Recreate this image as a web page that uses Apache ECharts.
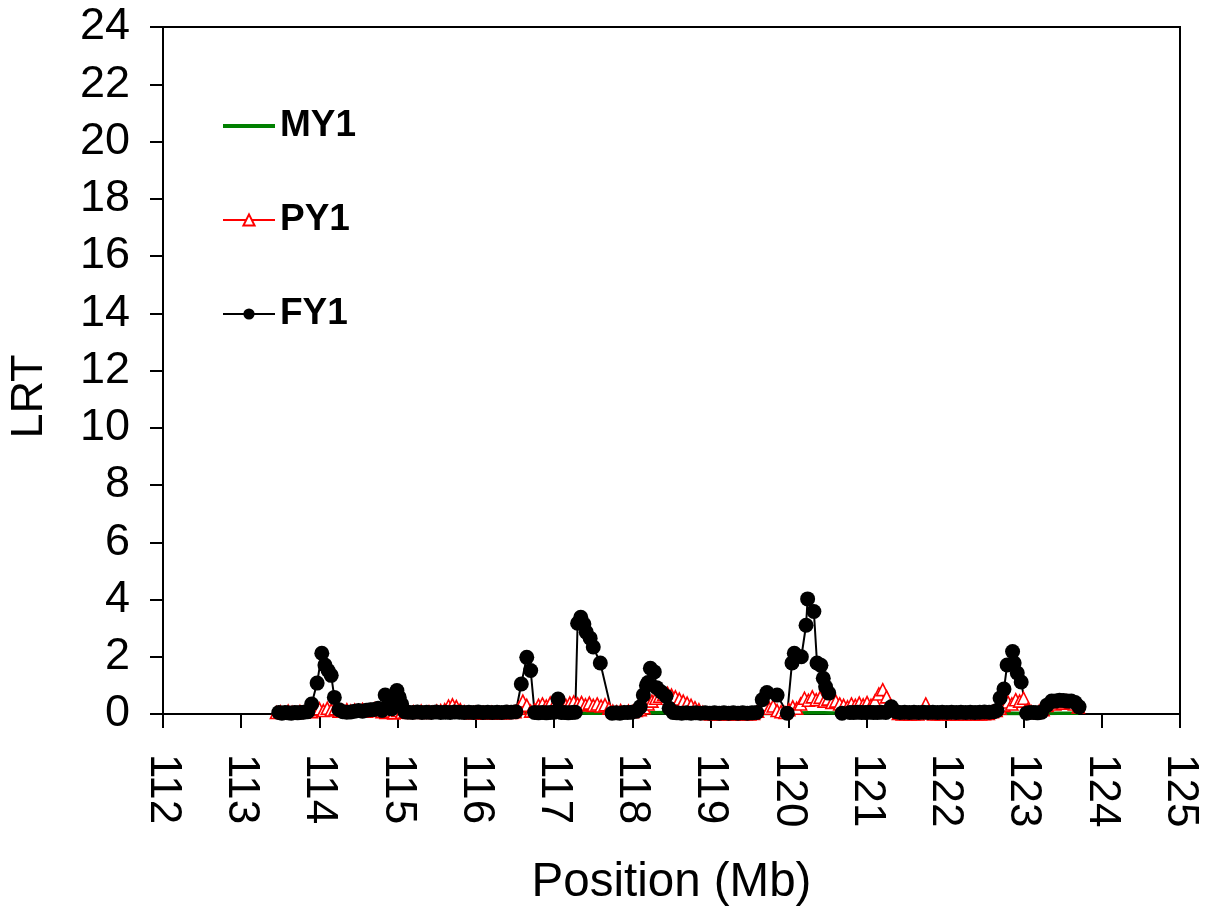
<!DOCTYPE html>
<html>
<head>
<meta charset="utf-8">
<script src="https://cdn.jsdelivr.net/npm/echarts@6/dist/echarts.min.js"></script>
<style>html,body{margin:0;padding:0;background:#fff;}#chart{width:1209px;height:909px;}</style>
</head>
<body>
<div id="chart"></div>
<script>
// x tick labels (Mb) and y tick labels (LRT)
const xTicks = [112,113,114,115,116,117,118,119,120,121,122,123,124,125];
const yTicks = [0,2,4,6,8,10,12,14,16,18,20,22,24];
const seriesNames = ['MY1','PY1','FY1'];

// MY1: [position Mb, LRT]
const my1 = [
[113.45,0.02],[113.65,0.02],[113.85,0.03],[114.05,0.02],[114.25,0.02],[114.45,0.03],[114.65,0.02],[114.85,0.02],
[115.05,0.02],[115.25,0.02],[115.45,0.02],[115.65,0.03],[115.85,0.02],[116.05,0.02],[116.25,0.02],[116.45,0.02],
[116.65,0.04],[116.85,0.03],[117.05,0.03],[117.25,0.04],[117.45,0.03],[117.65,0.03],[117.85,0.02],[118.05,0.02],
[118.25,0.04],[118.45,0.05],[118.65,0.04],[118.85,0.02],[119.05,0.01],[119.25,0.01],[119.45,0.01],[119.65,0.02],
[119.85,0.02],[120.05,0.03],[120.25,0.04],[120.45,0.04],[120.65,0.03],[120.85,0.03],[121.05,0.03],[121.25,0.03],
[121.45,0.01],[121.65,0.01],[121.85,0.01],[122.05,0.01],[122.25,0.01],[122.45,0.01],[122.65,0.02],[122.85,0.03],
[123.05,0.02],[123.25,0.02],[123.45,0.03],[123.70,0.03]
];

// PY1: [position Mb, LRT]
const py1 = [
[113.45,0.05],[113.50,0.08],[113.55,0.04],[113.60,0.10],[113.65,0.06],[113.70,0.05],[113.75,0.09],[113.80,0.06],[113.85,0.10],[113.90,0.08],
[113.95,0.15],[114.00,0.18],[114.05,0.12],[114.10,0.20],[114.15,0.14],[114.20,0.18],[114.25,0.10],[114.30,0.12],[114.35,0.15],[114.40,0.10],
[114.45,0.14],[114.50,0.12],[114.55,0.16],[114.60,0.10],[114.65,0.14],[114.70,0.18],[114.75,0.12],[114.80,0.08],[114.85,0.05],[114.90,0.10],
[114.95,0.04],[115.00,0.12],[115.05,0.06],[115.10,0.08],[115.15,0.05],[115.20,0.08],[115.25,0.06],[115.30,0.10],[115.35,0.05],[115.40,0.08],
[115.45,0.06],[115.50,0.10],[115.55,0.12],[115.60,0.15],[115.65,0.28],[115.70,0.32],[115.75,0.26],[115.80,0.15],[115.85,0.08],[115.90,0.05],
[115.95,0.04],[116.00,0.06],[116.05,0.03],[116.10,0.05],[116.15,0.04],[116.20,0.06],[116.25,0.03],[116.30,0.05],[116.35,0.04],[116.40,0.06],
[116.45,0.05],[116.50,0.08],[116.55,0.20],[116.60,0.45],[116.65,0.30],[116.70,0.10],[116.75,0.15],[116.80,0.30],[116.85,0.35],[116.90,0.28],
[116.95,0.38],[117.00,0.32],[117.05,0.40],[117.10,0.35],[117.15,0.30],[117.20,0.38],[117.25,0.42],[117.30,0.35],[117.35,0.40],[117.40,0.32],
[117.45,0.38],[117.50,0.30],[117.55,0.35],[117.60,0.28],[117.65,0.32],[117.70,0.20],[117.75,0.10],[117.80,0.08],[117.85,0.12],[117.90,0.06],
[117.95,0.10],[118.00,0.08],[118.05,0.12],[118.10,0.15],[118.15,0.22],[118.20,0.35],[118.25,0.45],[118.30,0.55],[118.35,0.62],[118.40,0.68],
[118.45,0.72],[118.50,0.66],[118.55,0.60],[118.60,0.52],[118.65,0.45],[118.70,0.38],[118.75,0.30],[118.80,0.22],[118.85,0.15],[118.90,0.06],
[118.95,0.02],[119.00,0.00],[119.05,0.01],[119.10,0.00],[119.15,0.01],[119.20,0.00],[119.25,0.01],[119.30,0.00],[119.35,0.01],[119.40,0.00],
[119.45,0.01],[119.50,0.00],[119.55,0.02],[119.60,0.10],[119.65,0.25],[119.70,0.32],[119.75,0.20],[119.80,0.28],[119.85,0.12],[119.90,0.08],
[119.95,0.05],[120.00,0.15],[120.05,0.25],[120.10,0.20],[120.15,0.35],[120.20,0.55],[120.25,0.48],[120.30,0.60],[120.35,0.50],[120.40,0.58],
[120.45,0.45],[120.50,0.52],[120.55,0.40],[120.60,0.45],[120.65,0.35],[120.70,0.30],[120.75,0.25],[120.80,0.35],[120.85,0.30],[120.90,0.38],
[120.95,0.32],[121.00,0.40],[121.05,0.30],[121.10,0.45],[121.15,0.70],[121.20,0.85],[121.25,0.60],[121.30,0.30],[121.35,0.12],[121.40,0.02],
[121.45,0.00],[121.50,0.01],[121.55,0.00],[121.60,0.01],[121.65,0.00],[121.70,0.05],[121.75,0.35],[121.80,0.05],[121.85,0.00],[121.90,0.01],
[121.95,0.00],[122.00,0.01],[122.05,0.00],[122.10,0.01],[122.15,0.00],[122.20,0.01],[122.25,0.00],[122.30,0.01],[122.35,0.00],[122.40,0.01],
[122.45,0.00],[122.50,0.01],[122.55,0.02],[122.60,0.08],[122.65,0.12],[122.70,0.20],[122.75,0.30],[122.80,0.42],[122.85,0.35],[122.90,0.50],
[122.95,0.45],[123.00,0.55],[123.05,0.15],[123.10,0.08],[123.15,0.05],[123.20,0.10],[123.25,0.15],[123.30,0.30],[123.35,0.40],[123.40,0.35],
[123.45,0.42],[123.50,0.38],[123.55,0.45],[123.60,0.40],[123.65,0.35],[123.70,0.25]
];

// FY1: [position Mb, LRT]
const fy1 = [
[113.48,0.05],[113.52,0.03],[113.56,0.05],[113.60,0.04],[113.64,0.03],[113.68,0.05],[113.72,0.04],[113.76,0.05],[113.80,0.06],[113.85,0.08],
[113.90,0.35],[113.97,1.08],[114.03,2.12],[114.07,1.71],[114.11,1.52],[114.15,1.35],[114.19,0.58],[114.25,0.15],[114.30,0.08],[114.35,0.06],
[114.40,0.07],[114.45,0.10],[114.50,0.12],[114.55,0.10],[114.60,0.13],[114.65,0.15],[114.70,0.16],[114.75,0.20],[114.80,0.12],[114.84,0.66],
[114.88,0.30],[114.92,0.18],[114.95,0.42],[114.99,0.82],[115.02,0.58],[115.05,0.35],[115.09,0.08],[115.13,0.06],[115.19,0.05],[115.25,0.07],
[115.31,0.05],[115.37,0.06],[115.43,0.05],[115.49,0.07],[115.55,0.05],[115.61,0.06],[115.67,0.05],[115.73,0.07],[115.79,0.06],[115.85,0.05],
[115.91,0.06],[115.97,0.05],[116.03,0.07],[116.09,0.05],[116.15,0.06],[116.21,0.05],[116.27,0.06],[116.33,0.05],[116.39,0.07],[116.45,0.06],
[116.51,0.08],[116.58,1.05],[116.65,1.98],[116.70,1.52],[116.75,0.05],[116.80,0.04],[116.85,0.05],[116.90,0.04],[116.95,0.05],[117.00,0.06],
[117.05,0.52],[117.09,0.05],[117.13,0.05],[117.18,0.04],[117.23,0.05],[117.27,0.06],[117.30,3.17],[117.34,3.38],[117.38,3.14],[117.41,2.86],
[117.46,2.65],[117.50,2.34],[117.59,1.78],[117.74,0.03],[117.79,0.04],[117.84,0.03],[117.89,0.05],[117.94,0.05],[117.99,0.06],[118.05,0.10],
[118.10,0.25],[118.14,0.66],[118.18,1.00],[118.20,1.10],[118.23,1.60],[118.28,1.47],[118.31,0.92],[118.37,0.77],[118.43,0.62],[118.47,0.20],
[118.52,0.05],[118.57,0.04],[118.63,0.03],[118.69,0.04],[118.75,0.03],[118.81,0.04],[118.87,0.03],[118.93,0.04],[118.99,0.03],[119.05,0.04],
[119.11,0.03],[119.17,0.04],[119.23,0.03],[119.29,0.04],[119.35,0.03],[119.41,0.04],[119.47,0.03],[119.53,0.04],[119.59,0.05],[119.66,0.50],
[119.72,0.75],[119.85,0.66],[119.98,0.03],[120.04,1.78],[120.07,2.12],[120.16,2.00],[120.22,3.10],[120.24,4.02],[120.32,3.58],[120.36,1.78],
[120.41,1.70],[120.44,1.25],[120.47,0.95],[120.51,0.73],[120.68,0.03],[120.78,0.05],[120.83,0.05],[120.88,0.06],[120.93,0.05],[120.98,0.05],
[121.03,0.06],[121.08,0.05],[121.13,0.05],[121.18,0.06],[121.24,0.05],[121.31,0.25],[121.37,0.08],[121.42,0.05],[121.48,0.06],[121.54,0.05],
[121.60,0.06],[121.66,0.05],[121.72,0.06],[121.78,0.05],[121.84,0.06],[121.90,0.05],[121.96,0.06],[122.02,0.05],[122.08,0.06],[122.14,0.05],
[122.20,0.06],[122.26,0.05],[122.32,0.06],[122.38,0.05],[122.44,0.06],[122.50,0.07],[122.56,0.06],[122.62,0.08],[122.66,0.12],[122.70,0.56],
[122.75,0.87],[122.79,1.71],[122.86,2.18],[122.88,1.78],[122.92,1.43],[122.97,1.12],[123.04,0.03],[123.08,0.05],[123.13,0.05],[123.18,0.04],
[123.23,0.06],[123.30,0.31],[123.36,0.45],[123.41,0.45],[123.46,0.48],[123.51,0.47],[123.56,0.45],[123.61,0.45],[123.66,0.40],[123.71,0.25]
];

const FONT = '"Liberation Sans", Arial, sans-serif';
const chart = echarts.init(document.getElementById('chart'), null, {renderer: 'canvas'});
chart.setOption({
  animation: false,
  backgroundColor: '#fff',
  grid: {left: 163, right: 29, top: 27, bottom: 195, show: true, borderColor: '#000', borderWidth: 2,
    backgroundColor: 'transparent', containLabel: false, outerBoundsMode: 'none'},
  legend: {
    orient: 'vertical', left: 221, top: 106, padding: 0, itemGap: 54, itemWidth: 52, itemHeight: 14,
    selectedMode: false,
    data: [
      {name: seriesNames[0], itemStyle: {opacity: 0}, lineStyle: {width: 4, color: '#008000'}},
      {name: seriesNames[1], lineStyle: {width: 2, color: '#ff0000'}},
      {name: seriesNames[2], lineStyle: {width: 2, color: '#000'}}
    ],
    textStyle: {fontFamily: FONT, fontSize: 37, fontWeight: 'bold', color: '#000', lineHeight: 40}
  },
  xAxis: {
    type: 'value', min: xTicks[0], max: xTicks[xTicks.length - 1], interval: 1,
    name: 'Position (Mb)', nameLocation: 'middle', nameGap: 145,
    nameTextStyle: {fontFamily: FONT, fontSize: 47.5, color: '#000'},
    axisLine: {onZero: false, lineStyle: {color: '#000', width: 2}},
    axisTick: {show: true, length: 14, lineStyle: {color: '#000', width: 2}},
    axisLabel: {rotate: -90, margin: 40, fontFamily: FONT, fontSize: 44, color: '#000',
      formatter: v => xTicks.includes(v) ? String(v) : ''},
    splitLine: {show: false}
  },
  yAxis: {
    type: 'value', min: yTicks[0], max: yTicks[yTicks.length - 1], interval: 2,
    name: 'LRT', nameLocation: 'middle', nameGap: 111,
    nameTextStyle: {fontFamily: FONT, fontSize: 45, color: '#000', padding: [0, 52, 0, 0]},
    axisLine: {onZero: false, lineStyle: {color: '#000', width: 2}},
    axisTick: {show: true, length: 13, lineStyle: {color: '#000', width: 2}},
    axisLabel: {margin: 33, fontFamily: FONT, fontSize: 45, color: '#000',
      formatter: v => yTicks.includes(v) ? String(v) : ''},
    splitLine: {show: false}
  },
  series: [
    {name: 'MY1', type: 'line', data: my1, showSymbol: false, symbol: 'none',
      color: '#008000', lineStyle: {color: '#008000', width: 3.5}},
    {name: 'PY1', type: 'line', data: py1, symbol: 'triangle', symbolSize: 12, showAllSymbol: true,
      itemStyle: {color: '#ffffff', borderColor: '#ff0000', borderWidth: 1.6},
      lineStyle: {color: '#ff0000', width: 1.5}},
    {name: 'FY1', type: 'line', data: fy1, symbol: 'circle', symbolSize: 15, showAllSymbol: true,
      itemStyle: {color: '#000'}, lineStyle: {color: '#000', width: 2}}
  ]
});
</script>
</body>
</html>
